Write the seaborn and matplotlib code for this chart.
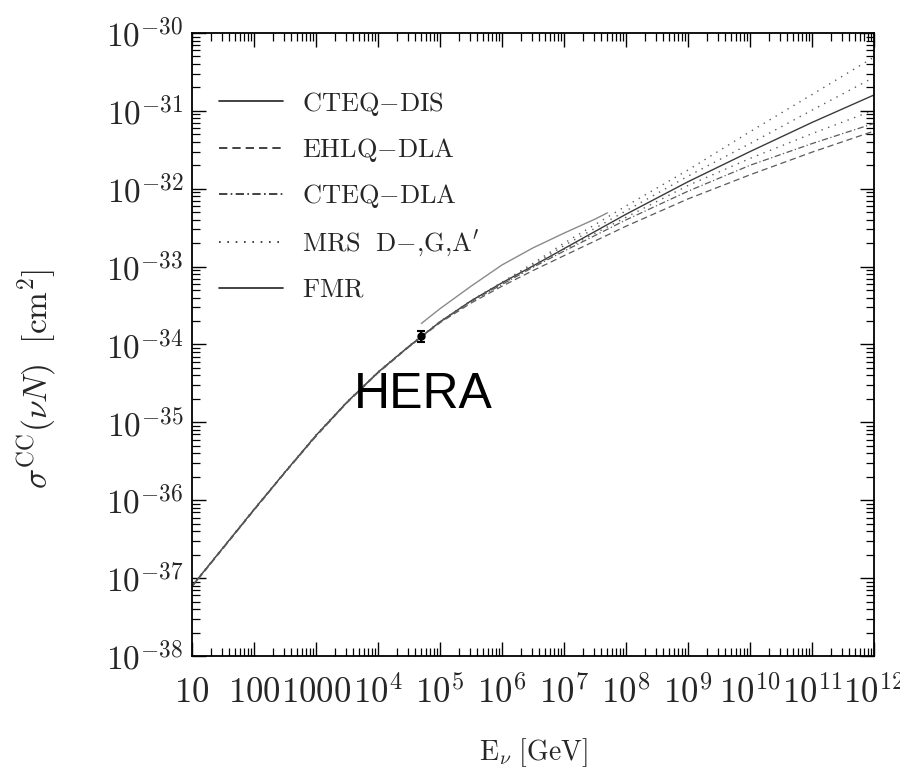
import numpy as np
import pandas as pd
import matplotlib
matplotlib.use("Agg")
import matplotlib.pyplot as plt
import matplotlib.ticker as mticker
import seaborn as sns

# Neutrino energy grid [GeV]
energy = [1e1, 1e2, 10**2.5, 1e3, 10**3.5, 1e4, 10**4.5, 1e5, 10**5.5,
          1e6, 10**6.5, 1e7, 1e8, 1e9, 1e10, 1e11, 1e12]

# Charged-current nu-N cross sections [cm^2] for each parton distribution set
cteq_dis = [7.9e-38, 7.6e-37, 2.3e-36, 6.8e-36, 1.82e-35, 4.4e-35, 9.5e-35, 1.95e-34, 3.63e-34,
            6.2e-34, 1.02e-33, 1.7e-33, 4.7e-33, 1.23e-32, 3.0e-32, 7.1e-32, 1.6e-31]
ehlq_dla = [7.7e-38, 7.4e-37, 2.25e-36, 6.6e-36, 1.78e-35, 4.3e-35, 9.3e-35, 1.9e-34, 3.4e-34,
            5.6e-34, 8.9e-34, 1.38e-33, 3.3e-33, 7.4e-33, 1.51e-32, 2.95e-32, 5.5e-32]
cteq_dla = [7.9e-38, 7.5e-37, 2.28e-36, 6.7e-36, 1.8e-35, 4.35e-35, 9.4e-35, 1.95e-34, 3.55e-34,
            5.9e-34, 9.8e-34, 1.58e-33, 3.98e-33, 9.3e-33, 2.0e-32, 3.8e-32, 6.9e-32]
mrs_dminus = [8.0e-38, 7.7e-37, 2.32e-36, 6.9e-36, 1.84e-35, 4.45e-35, 9.6e-35, 1.97e-34, 3.66e-34,
              6.3e-34, 1.1e-33, 2.0e-33, 6.0e-33, 1.74e-32, 5.4e-32, 1.62e-31, 4.9e-31]
mrs_g = [7.9e-38, 7.6e-37, 2.3e-36, 6.8e-36, 1.82e-35, 4.4e-35, 9.5e-35, 1.96e-34, 3.63e-34,
         6.2e-34, 1.05e-33, 1.86e-33, 5.2e-33, 1.45e-32, 3.8e-32, 1.02e-31, 2.7e-31]
mrs_aprime = [7.8e-38, 7.5e-37, 2.28e-36, 6.7e-36, 1.8e-35, 4.35e-35, 9.4e-35, 1.94e-34, 3.6e-34,
              6.0e-34, 1.0e-33, 1.66e-33, 4.3e-33, 1.1e-32, 2.45e-32, 5.1e-32, 1.02e-31]

# FMR calculation covers a limited energy range
energy_fmr = [5e4, 1e5, 10**5.5, 1e6, 10**6.5, 1e7, 10**7.5, 5e7]
sigma_fmr = [1.86e-34, 2.88e-34, 5.6e-34, 1.05e-33, 1.74e-33, 2.69e-33, 4.07e-33, 4.9e-33]

# HERA measurement (equivalent fixed-target energy)
hera_energy = [4.9e4]
hera_sigma = [1.27e-34]
hera_err = [0.2e-34]

xtick_values = [1e1, 1e2, 1e3, 1e4, 1e5, 1e6, 1e7, 1e8, 1e9, 1e10, 1e11, 1e12]
xtick_labels = ["$10$", "$100$", "$1000$", "$10^{4}$", "$10^{5}$", "$10^{6}$",
                "$10^{7}$", "$10^{8}$", "$10^{9}$", "$10^{10}$", "$10^{11}$", "$10^{12}$"]
ytick_values = [1e-38, 1e-37, 1e-36, 1e-35, 1e-34, 1e-33, 1e-32, 1e-31, 1e-30]
ytick_labels = ["$10^{-38}$", "$10^{-37}$", "$10^{-36}$", "$10^{-35}$", "$10^{-34}$",
                "$10^{-33}$", "$10^{-32}$", "$10^{-31}$", "$10^{-30}$"]

sns.set_style("ticks")
plt.rcParams["mathtext.fontset"] = "cm"
plt.rcParams["font.family"] = ["DejaVu Serif"]

fig = plt.figure(figsize=(9.0, 7.73), dpi=100)
ax = fig.add_axes([0.2133, 0.1514, 0.7578, 0.8059])

series = [
    (energy, cteq_dis, "-", "#3a3a3a", 1.0, r"$\mathrm{CTEQ{-}DIS}$"),
    (energy, ehlq_dla, (0, (5, 3)), "#5a5a5a", 0.9, r"$\mathrm{EHLQ{-}DLA}$"),
    (energy, cteq_dla, (0, (5, 2, 1, 2)), "#5a5a5a", 0.9, r"$\mathrm{CTEQ{-}DLA}$"),
    (energy, mrs_dminus, (0, (1, 4)), "#5a5a5a", 1.0, r"$\mathrm{MRS\ \ D{-}{,}G{,}A'}$"),
    (energy, mrs_g, (0, (1, 4)), "#5a5a5a", 1.0, None),
    (energy, mrs_aprime, (0, (1, 4)), "#5a5a5a", 1.0, None),
    (energy_fmr, sigma_fmr, "-", "#8a8a8a", 1.0, r"$\mathrm{FMR}$"),
]

for xs, ys, ls, col, lw, lab in series:
    df = pd.DataFrame({"E": xs, "sigma": ys})
    sns.lineplot(data=df, x="E", y="sigma", ax=ax, color=col, lw=lw,
                 linestyle=ls, label=lab if lab else "_nolegend_",
                 legend=False, errorbar=None)

ax.errorbar(hera_energy, hera_sigma, yerr=hera_err, fmt="o", color="black",
            ms=5, capsize=3, elinewidth=1.5, capthick=1.5, zorder=5)

ax.set_xscale("log")
ax.set_yscale("log")
ax.set_xlim(1e1, 1e12)
ax.set_ylim(1e-38, 1e-30)

ax.xaxis.set_major_locator(mticker.FixedLocator(xtick_values))
ax.xaxis.set_major_formatter(mticker.FixedFormatter(xtick_labels))
ax.yaxis.set_major_locator(mticker.FixedLocator(ytick_values))
ax.yaxis.set_major_formatter(mticker.FixedFormatter(ytick_labels))
ax.xaxis.set_minor_locator(mticker.LogLocator(base=10, subs=np.arange(2, 10), numticks=200))
ax.yaxis.set_minor_locator(mticker.LogLocator(base=10, subs=np.arange(2, 10), numticks=200))
ax.xaxis.set_minor_formatter(mticker.NullFormatter())
ax.yaxis.set_minor_formatter(mticker.NullFormatter())

ax.tick_params(which="both", direction="in", top=True, right=True, color="black")
ax.tick_params(which="major", length=10, width=1.0)
ax.tick_params(which="minor", length=6, width=0.9)
ax.tick_params(axis="x", pad=14, labelsize=25)
ax.tick_params(axis="y", pad=6, labelsize=24)
for sp in ax.spines.values():
    sp.set_color("black")
    sp.set_linewidth(1.3)

ax.set_xlabel(r"$\mathrm{E}_{\nu}\ [\mathrm{GeV}]$", fontsize=20)
ax.xaxis.set_label_coords(0.5, -0.128)
ax.set_ylabel(r"$\sigma^{\mathrm{CC}}(\nu N)\ \ [\mathrm{cm}^{2}]$", fontsize=24)
ax.yaxis.set_label_coords(-0.196, 0.445)

leg = ax.legend(loc="upper left", bbox_to_anchor=(0.04, 0.909), frameon=False,
                fontsize=19, handlelength=2.4, handletextpad=0.75, labelspacing=0.69,
                borderpad=0, borderaxespad=0)
for h in leg.get_lines():
    h.set_color("#222222")
    h.set_linewidth(1.2)

ax.text(0.339, 0.419, "HERA", transform=ax.transAxes, ha="center", va="center",
        fontsize=36, family=["Liberation Sans", "DejaVu Sans"], color="black")

fig.savefig("out.png", dpi=100)
